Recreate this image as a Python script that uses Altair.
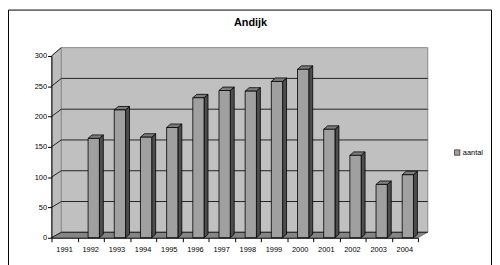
import altair as alt
import pandas as pd

# ---- data ----
years = ["1991", "1992", "1993", "1994", "1995", "1996", "1997",
         "1998", "1999", "2000", "2001", "2002", "2003", "2004"]
aantal = [0, 164, 211, 166, 182, 231, 243, 242, 258, 278, 179, 136, 88, 104]
y_ticks = [0, 50, 100, 150, 200, 250, 300]
series_name = "aantal"
title_text = "Andijk"

# ---- layout / style ----
W, H = 371, 184
N = len(years)
YMAX = 300
FONT = "Liberation Sans"
PX_X = W / N            # px per category
PX_Y = H / YMAX         # px per value unit

WALL_DX = 10 / PX_X     # back wall depth (category units)
WALL_DY0 = 9.0          # back wall bottom (value units)
WALL_K = 1.016          # back wall vertical scale
BAR_L, BAR_R = 0.40, 0.83
BAR_DX = 4 / PX_X
BAR_DY = 3.5 / PX_Y

WALL_FILL = "#c0c0c0"
SIDE_WALL_FILL = "#bcbcbc"
FLOOR_FILL = "#858585"
BAR_FRONT = "#a0a0a0"
BAR_SIDE = "#4d4d4d"
BAR_TOP = "#7d7d7d"

xs = alt.Scale(domain=[0, N], nice=False, zero=False)
ys = alt.Scale(domain=[0, YMAX], nice=False, zero=False)
x_axis = alt.Axis(values=list(range(N + 1)), labels=False, tickSize=4, grid=False, title=None,
                  domainColor="black", tickColor="black", zindex=1)
y_axis = alt.Axis(values=y_ticks, tickSize=4, labelFontSize=7.5, labelFont=FONT, labelPadding=1,
                  labelColor="black", grid=False, title=None, domainColor="black",
                  tickColor="black", zindex=1)

# ---- tables built from the lists ----
bars = pd.DataFrame({"year": years, "idx": range(N), "v": aantal})
bars = bars[bars["v"] > 0].copy()
bars["x0"] = bars["idx"] + BAR_L
bars["x1"] = bars["idx"] + BAR_R
bars["series"] = series_name

side_rows, top_rows = [], []
for _, r in bars.iterrows():
    i, v = r["idx"], r["v"]
    side_rows += [
        {"year": r["year"], "x": i + BAR_R, "lo": 0, "hi": v},
        {"year": r["year"], "x": i + BAR_R + BAR_DX, "lo": BAR_DY, "hi": v + BAR_DY},
    ]
    top_rows += [
        {"year": r["year"], "x": i + BAR_L, "lo": v, "hi": v},
        {"year": r["year"], "x": i + BAR_L + BAR_DX, "lo": v, "hi": v + BAR_DY},
        {"year": r["year"], "x": i + BAR_R, "lo": v, "hi": v + BAR_DY},
        {"year": r["year"], "x": i + BAR_R + BAR_DX, "lo": v + BAR_DY, "hi": v + BAR_DY},
    ]
side_df = pd.DataFrame(side_rows)
top_df = pd.DataFrame(top_rows)

wall_top = WALL_DY0 + YMAX * WALL_K
wall_df = pd.DataFrame({"x": [WALL_DX], "x2": [N + WALL_DX], "y": [WALL_DY0], "y2": [wall_top]})
sidewall_df = pd.DataFrame({"x": [0, WALL_DX], "lo": [0, WALL_DY0], "hi": [YMAX, wall_top]})
floor_df = pd.DataFrame({"x": [0, WALL_DX, N, N + WALL_DX],
                         "lo": [0, 0, 0, WALL_DY0],
                         "hi": [0, WALL_DY0, WALL_DY0, WALL_DY0]})
grid_df = pd.DataFrame({"v": y_ticks})
grid_df["wy"] = WALL_DY0 + grid_df["v"] * WALL_K
grid_df["x0"] = 0.0
grid_df["xw"] = WALL_DX
grid_df["xe"] = N + WALL_DX
grid_in = grid_df[grid_df["v"] < YMAX]

labels_df = pd.DataFrame({"year": years, "xc": [i + 0.5 for i in range(N)]})

# ---- layers ----
frame = alt.Chart(pd.DataFrame({"a": [0]})).mark_rect(
    fill=None, stroke="black", strokeWidth=1
).encode(x=alt.value(-43.5), x2=alt.value(445.5), y=alt.value(-46.5), y2=alt.value(215))

sidewall = alt.Chart(sidewall_df).mark_area(fill=SIDE_WALL_FILL, stroke="#8a8a8a", strokeWidth=0.8).encode(
    x=alt.X("x:Q", scale=xs, axis=x_axis),
    y=alt.Y("hi:Q", scale=ys, axis=y_axis, stack=None),
    y2="lo:Q",
)

wall = alt.Chart(wall_df).mark_rect(fill=WALL_FILL, stroke="#8a8a8a", strokeWidth=1).encode(
    x=alt.X("x:Q", scale=xs, axis=x_axis), x2="x2:Q",
    y=alt.Y("y:Q", scale=ys, axis=y_axis), y2="y2:Q",
)

floor = alt.Chart(floor_df).mark_area(fill=FLOOR_FILL, stroke="#5a5a5a", strokeWidth=0.6).encode(
    x=alt.X("x:Q", scale=xs, axis=x_axis),
    y=alt.Y("hi:Q", scale=ys, axis=y_axis, stack=None),
    y2="lo:Q",
)

grid_slant = alt.Chart(grid_df).mark_rule(color="#222222", strokeWidth=1).encode(
    x=alt.X("x0:Q", scale=xs, axis=x_axis), x2="xw:Q",
    y=alt.Y("v:Q", scale=ys, axis=y_axis), y2="wy:Q",
)
grid_h = alt.Chart(grid_in).mark_rule(color="#222222", strokeWidth=1).encode(
    x=alt.X("xw:Q", scale=xs, axis=x_axis), x2="xe:Q",
    y=alt.Y("wy:Q", scale=ys, axis=y_axis),
)

bar_side = alt.Chart(side_df).mark_area(fill=BAR_SIDE, stroke="black", strokeWidth=0.8).encode(
    x=alt.X("x:Q", scale=xs, axis=x_axis),
    y=alt.Y("hi:Q", scale=ys, axis=y_axis, stack=None),
    y2="lo:Q",
    detail="year:N",
)
bar_top = alt.Chart(top_df).mark_area(fill=BAR_TOP, stroke="black", strokeWidth=0.8).encode(
    x=alt.X("x:Q", scale=xs, axis=x_axis),
    y=alt.Y("hi:Q", scale=ys, axis=y_axis, stack=None),
    y2="lo:Q",
    detail="year:N",
)
bar_front = alt.Chart(bars).mark_rect(stroke="black", strokeWidth=0.8).encode(
    x=alt.X("x0:Q", scale=xs, axis=x_axis), x2="x1:Q",
    y=alt.Y("v:Q", scale=ys, axis=y_axis), y2=alt.datum(0),
    color=alt.Color("series:N", scale=alt.Scale(range=[BAR_FRONT]),
                    legend=alt.Legend(title=None, orient="none", legendX=407, legendY=94,
                                      symbolType="square", symbolSize=30,
                                      symbolStrokeColor="black", symbolStrokeWidth=0.6,
                                      labelFontSize=7.5, labelFont=FONT, labelColor="black",
                                      labelOffset=2, padding=0)),
)

year_labels = alt.Chart(labels_df).mark_text(fontSize=7.5, font=FONT, color="black",
                                             baseline="middle", align="center").encode(
    x=alt.X("xc:Q", scale=xs, axis=x_axis),
    y=alt.value(H + 12),
    text="year:N",
)

title = alt.Chart(pd.DataFrame({"t": [title_text]})).mark_text(
    fontSize=11, font=FONT, fontWeight="bold", color="black", baseline="middle", align="center"
).encode(x=alt.value(201.5), y=alt.value(-33.5), text="t:N")

chart = alt.layer(
    frame, sidewall, wall, floor, grid_slant, grid_h, bar_side, bar_top, bar_front,
    year_labels, title
).properties(
    width=W, height=H,
    padding={"left": 44, "top": 47, "right": 75, "bottom": 26},
    autosize=alt.AutoSizeParams(type="none"),
    background="white",
).configure_view(stroke=None)

chart.save("out.html", embed_options={"renderer": "svg", "actions": False})
